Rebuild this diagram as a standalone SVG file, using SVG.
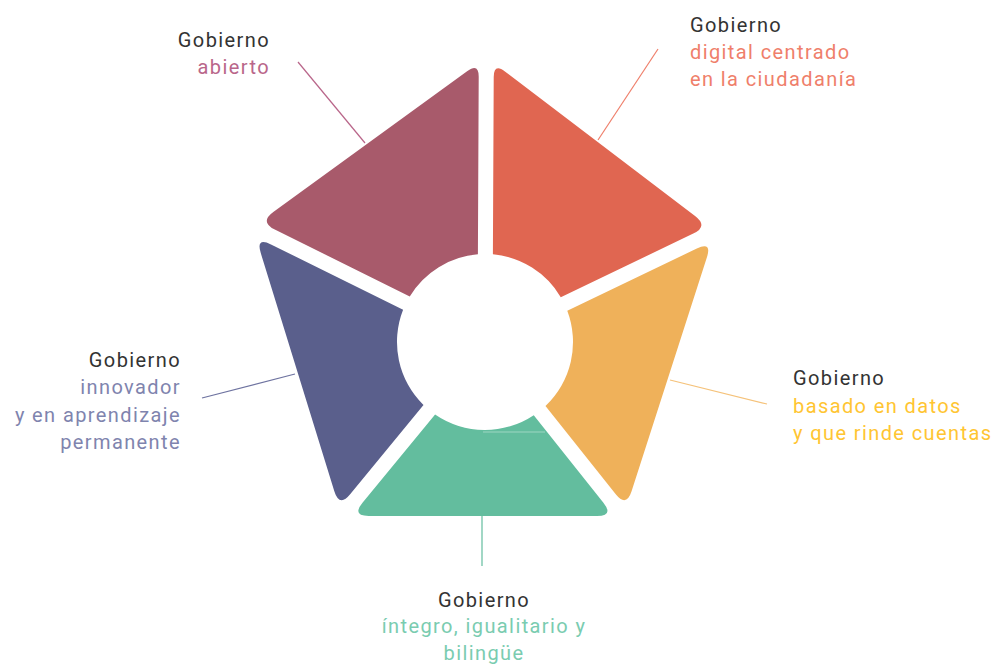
<svg xmlns="http://www.w3.org/2000/svg" width="996" height="665" viewBox="0 0 996 665">
<style>
text{font-family:Roboto,"Liberation Sans",sans-serif;font-size:20px;letter-spacing:1.4px}
.t{fill:#333333}
.end{text-anchor:end}
.mid{text-anchor:middle}
.conn line{stroke-width:1.2;fill:none}
</style>
<rect width="996" height="665" fill="#ffffff"/>
<g id="segment-abierto">
<path fill="#A85A6B" d="M273.3,212.03 L467.44,71 Q478.77,62.77 478.71,76.77 L477.9,254.3 A88,88 0 0 0 409.75,296.38 L274.79,229.56 Q259.55,222.02 273.3,212.03 Z"/>
<text class="t end" x="270" y="47">Gobierno</text>
<text class="end" x="270" y="74" fill="#B9668A">abierto</text>
</g>
<g id="segment-digital">
<path fill="#E06651" d="M504.93,71.45 L695.05,215.91 Q708.59,226.2 693.27,233.56 L560.78,297.25 A88,88 0 0 0 492.9,254.35 L493.72,76.98 Q493.78,62.98 504.93,71.45 Z"/>
<text class="t" x="690" y="32">Gobierno</text>
<text x="690" y="59" fill="#EF7F6B">digital centrado</text>
<text x="690" y="86" fill="#EF7F6B">en la ciudadanía</text>
</g>
<g id="segment-datos">
<path fill="#EFB15A" d="M706.92,257.32 L631.57,491.25 Q626.36,507.43 615.77,494.14 L545.49,405.9 A88,88 0 0 0 567.28,310.77 L696.81,248.51 Q712.13,241.14 706.92,257.32 Z"/>
<text class="t" x="793" y="385">Gobierno</text>
<text x="793" y="413" fill="#FFC532">basado en datos</text>
<text x="793" y="440" fill="#FFC532">y que rinde cuentas</text>
</g>
<g id="segment-integro">
<path fill="#63BD9E" d="M597,516 L368.7,516 Q351.7,516 362.5,502.87 L435.1,414.5 A88,88 0 0 0 533.75,415.24 L603.41,502.71 Q614,516 597,516 Z"/>
<line x1="483" y1="432" x2="545" y2="432" stroke="#9ED6C2" stroke-width="1"/>
<text class="t mid" x="484" y="607">Gobierno</text>
<text class="mid" x="484" y="633" fill="#7ACCB0">íntegro, igualitario y</text>
<text class="mid" x="484" y="660" fill="#7ACCB0">bilingüe</text>
</g>
<g id="segment-innovador">
<path fill="#5A5F8C" d="M334.33,491.18 L260.77,253.12 Q255.75,236.88 270.99,244.42 L403.09,309.82 A88,88 0 0 0 423.5,404.98 L350.15,494.29 Q339.35,507.42 334.33,491.18 Z"/>
<text class="t end" x="181" y="367">Gobierno</text>
<text class="end" x="181" y="394" fill="#7F84AE">innovador</text>
<text class="end" x="181" y="422" fill="#7F84AE">y en aprendizaje</text>
<text class="end" x="181" y="449" fill="#7F84AE">permanente</text>
</g>
<g id="connectors" class="conn">
<line x1="298" y1="62" x2="365" y2="143" stroke="#B9668A"/>
<line x1="658" y1="49" x2="598" y2="140" stroke="#EF7F6B"/>
<line x1="202" y1="398" x2="295" y2="374" stroke="#6E73A0"/>
<line x1="670" y1="380" x2="767" y2="404" stroke="#F5C27A"/>
<line x1="482" y1="516" x2="482" y2="566" stroke="#63BD9E"/>
</g>
</svg>
